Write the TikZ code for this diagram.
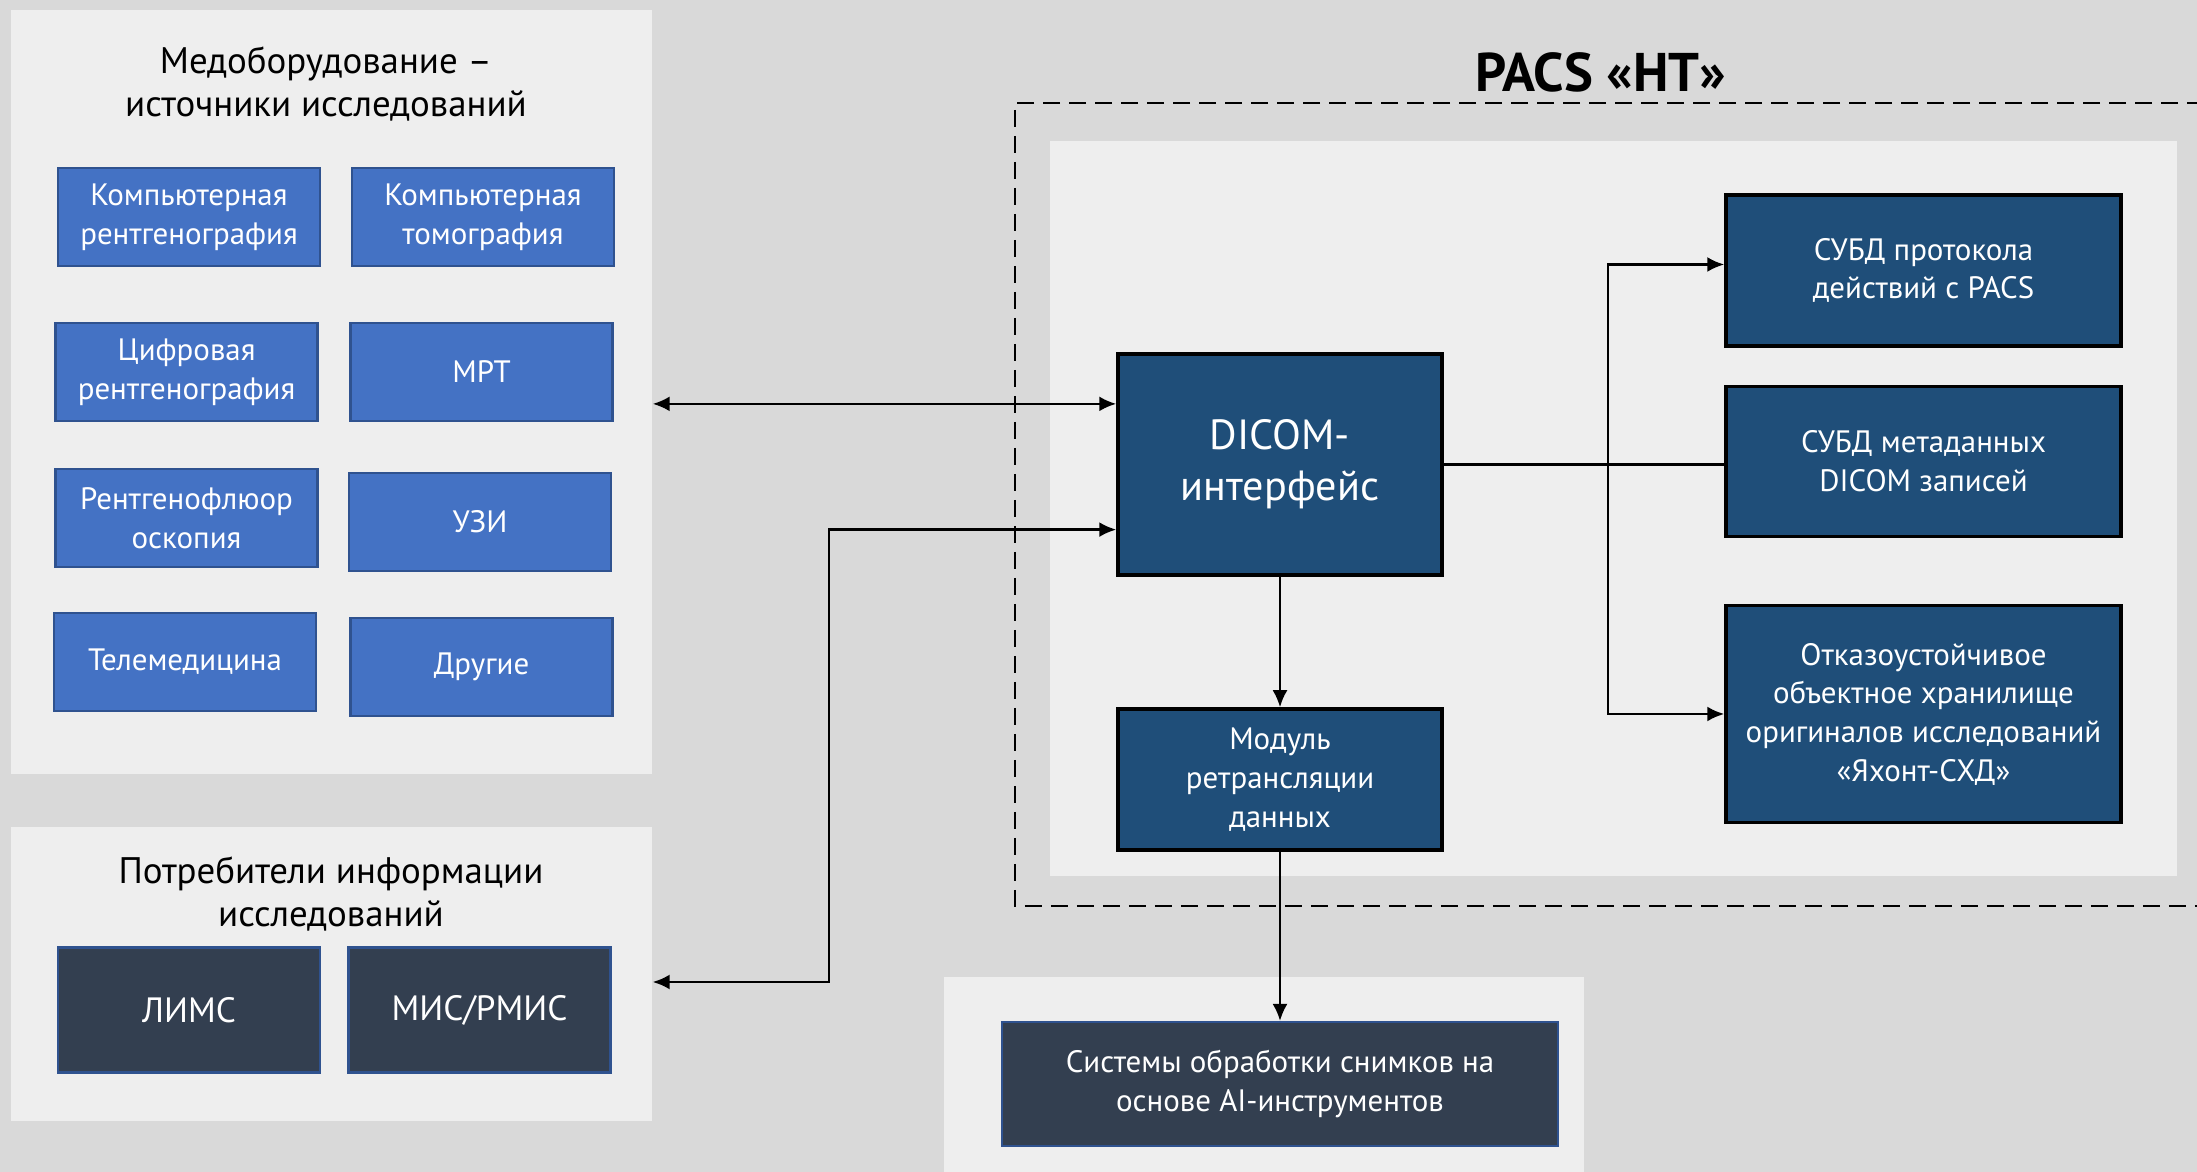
\documentclass[tikz,border=0pt]{standalone}
\usepackage{fontspec}
\setmainfont{PT Sans}
\usetikzlibrary{arrows.meta,calc}

\definecolor{bggrey}{HTML}{D9D9D9}
\definecolor{panelgrey}{HTML}{EEEEEE}
\definecolor{srcblue}{HTML}{4472C4}
\definecolor{srcedge}{HTML}{2F528F}
\definecolor{pacsblue}{HTML}{1F4E79}
\definecolor{slate}{HTML}{333F50}

\tikzset{
	panel/.style={fill=panelgrey, draw=none, inner sep=0pt},
	title/.style={align=center, font=\fontsize{10.5}{12.4}\selectfont},
	srcbox/.style={draw=srcedge, line width=0.7pt, fill=srcblue, text=white, align=center,
		font=\fontsize{8.8}{11}\selectfont, minimum width=26.2mm, minimum height=9.8mm, inner sep=0pt},
	userbox/.style={draw=srcedge, line width=0.6pt, fill=slate, text=white, align=center,
		font=\fontsize{10}{12}\selectfont, minimum width=26.2mm, minimum height=12.5mm, inner sep=0pt},
	pacsbox/.style={draw=black, line width=1pt, fill=pacsblue, text=white, align=center,
		font=\fontsize{8.8}{11}\selectfont, inner sep=0pt},
	link/.style={draw=black, line width=0.7pt},
	arrow/.style={link, -{Latex[length=1.7mm,width=1.5mm]}},
	biarrow/.style={link, {Latex[length=1.7mm,width=1.5mm]}-{Latex[length=1.7mm,width=1.5mm]}}
}

\begin{document}
\begin{tikzpicture}[x=0.1mm, y=-0.1mm]
	\useasboundingbox (0,0) rectangle (2197,1172);
	\clip (0,0) rectangle (2197,1172);
	\fill[bggrey] (0,0) rectangle (2197,1172);

	\node[panel, minimum width=64.1mm, minimum height=76.4mm] (medpanel) at (331.5,392) {};
	\node[panel, minimum width=64.1mm, minimum height=29.4mm] (userpanel) at (331.5,974) {};
	\node[panel, minimum width=112.7mm, minimum height=73.5mm] (pacspanel) at (1613.5,508.5) {};
	\node[panel, minimum width=64mm, minimum height=21mm] (aipanel) at (1264,1082) {};

	\draw[line width=0.8pt, dash pattern=on 1.7mm off 0.9mm] (2230,103) -- (1015,103) -- (1015,906) -- (2230,906);

	\node[title] (medtitle) at (326,84) {Медоборудование –\\источники исследований};
	\node[title] (usertitle) at (331,894) {Потребители информации\\исследований};
	\node[font=\fontsize{15.5}{17}\selectfont\bfseries] (pacstitle) at (1601,72) {PACS «НТ»};

	\node[srcbox] (kr) at (189,217) {Компьютерная\\рентгенография};
	\node[srcbox] (kt) at (483,217) {Компьютерная\\томография};
	\node[srcbox] (cr) at (186.5,372) {Цифровая\\рентгенография};
	\node[srcbox] (mrt) at (481.5,372) {МРТ};
	\node[srcbox] (rfs) at (186.5,518) {Рентгенофлюор\\оскопия};
	\node[srcbox] (uzi) at (480,522) {УЗИ};
	\node[srcbox] (tele) at (185,662) {Телемедицина};
	\node[srcbox] (other) at (481.5,667) {Другие};

	\node[userbox] (lims) at (189,1010) {ЛИМС};
	\node[userbox] (mis) at (479.5,1010) {МИС/РМИС};

	\node[pacsbox, minimum width=32.4mm, minimum height=22.1mm, font=\fontsize{12}{14.6}\selectfont] (dicom) at (1280,464.5) {DICOM-\\интерфейс};
	\node[pacsbox, minimum width=32.4mm, minimum height=14.1mm] (relay) at (1280,779.5) {Модуль\\ретрансляции\\данных};
	\node[pacsbox, minimum width=39.5mm, minimum height=15.1mm] (proto) at (1923.5,270.5) {СУБД протокола\\действий с PACS};
	\node[pacsbox, minimum width=39.5mm, minimum height=15mm] (meta) at (1923.5,461.5) {СУБД метаданных\\DICOM записей};
	\node[pacsbox, minimum width=39.5mm, minimum height=21.7mm] (store) at (1923.5,714) {Отказоустойчивое\\объектное хранилище\\оригиналов исследований\\«Яхонт-СХД»};
	\node[userbox, minimum width=55.6mm, minimum height=12.4mm, font=\fontsize{8.8}{11}\selectfont] (ai) at (1280,1084) {Системы обработки снимков на\\основе AI-инструментов};

	\coordinate (dinA) at ($(dicom.north west)!0.23!(dicom.south west)$);
	\coordinate (dinB) at ($(dicom.north west)!0.79!(dicom.south west)$);
	\coordinate (fork) at ($(dicom.east)!0.585!(dicom.east -| meta.west)$);

	\draw[biarrow] (medpanel.east |- dinA) -- (dinA);
	\draw[biarrow] ([yshift=-0.8mm]userpanel.east) -| ([xshift=-28.7mm]dinB) -- (dinB);
	\draw[link] (dicom.east) -- (dicom.east -| meta.west);
	\draw[arrow] (fork) |- ([yshift=0.6mm]proto.west);
	\draw[arrow] (fork) |- (store.west);
	\draw[arrow] (dicom.south) -- (relay.north);
	\draw[arrow] (relay.south) -- (ai.north);
\end{tikzpicture}
\end{document}
